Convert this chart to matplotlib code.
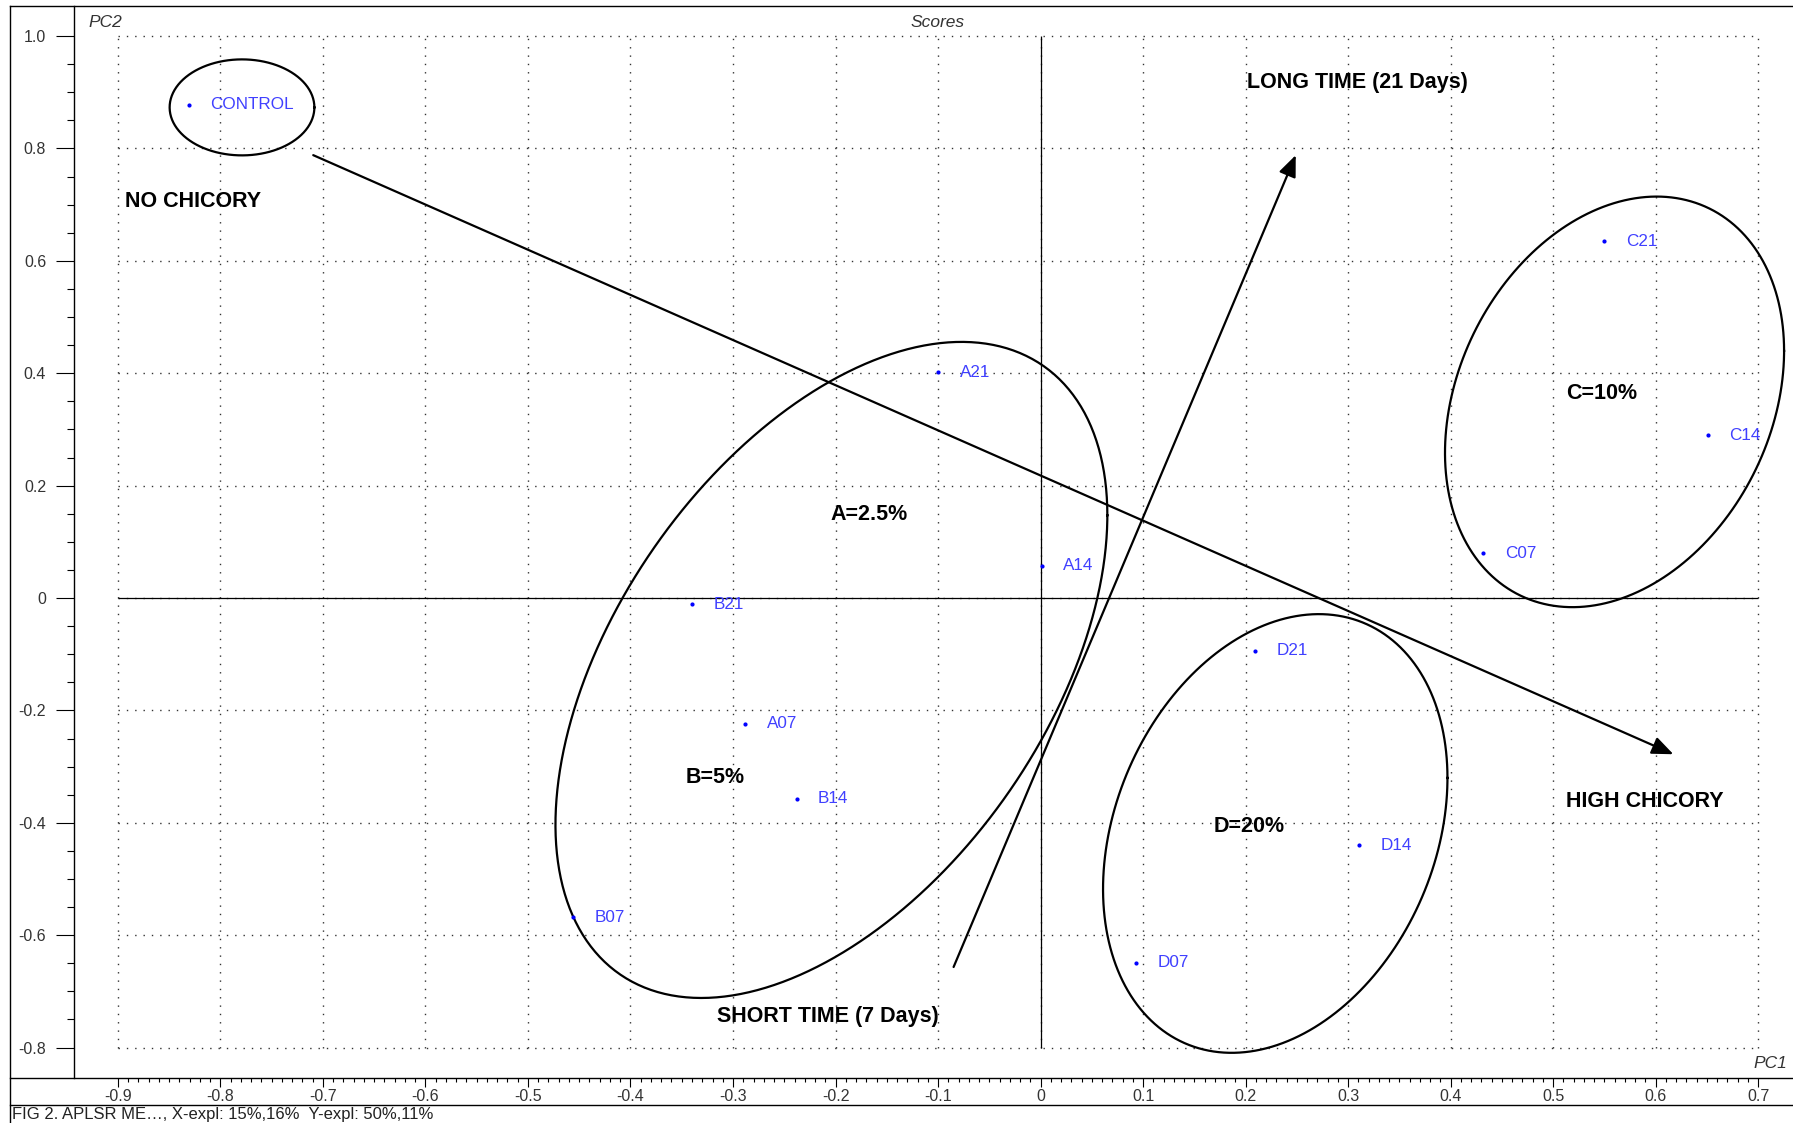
import numpy as np
import matplotlib
matplotlib.use("Agg")
import matplotlib.pyplot as plt
from matplotlib.lines import Line2D

plt.rcParams["font.family"] = ["Liberation Sans", "DejaVu Sans"]

# ---- scores (PC1, PC2) ----
sample_names = ["CONTROL", "A21", "A14", "A07", "B21", "B14", "B07",
                "C21", "C14", "C07", "D21", "D14", "D07"]
pc1_scores = [-0.831, -0.100, 0.001, -0.288, -0.340, -0.238, -0.456,
              0.550, 0.651, 0.432, 0.209, 0.311, 0.093]
pc2_scores = [0.878, 0.402, 0.057, -0.224, -0.011, -0.357, -0.568,
              0.635, 0.290, 0.080, -0.094, -0.440, -0.649]

# ---- axis ticks ----
x_ticks = [-0.9, -0.8, -0.7, -0.6, -0.5, -0.4, -0.3, -0.2, -0.1, 0.0,
           0.1, 0.2, 0.3, 0.4, 0.5, 0.6, 0.7]
x_tick_labels = ["-0.9", "-0.8", "-0.7", "-0.6", "-0.5", "-0.4", "-0.3",
                 "-0.2", "-0.1", "0", "0.1", "0.2", "0.3", "0.4", "0.5",
                 "0.6", "0.7"]
y_ticks = [-0.8, -0.6, -0.4, -0.2, 0.0, 0.2, 0.4, 0.6, 0.8, 1.0]
y_tick_labels = ["-0.8", "-0.6", "-0.4", "-0.2", "0", "0.2", "0.4",
                 "0.6", "0.8", "1.0"]

# ---- group regions: centre, half-extent in x, half-extent in y, x-y coupling ----
region_cx = [-0.779, -0.204, 0.560, 0.229]
region_cy = [0.873, -0.128, 0.349, -0.419]
region_sx = [0.0706, 0.2692, 0.1654, 0.1680]
region_sy = [0.0854, 0.5837, 0.3653, 0.3903]
region_sxy = [0.0, 0.0741, 0.0150, 0.0166]

# ---- annotation texts ----
group_texts = ["A=2.5%", "B=5%", "C=10%", "D=20%",
               "NO CHICORY", "HIGH CHICORY",
               "LONG TIME (21 Days)", "SHORT TIME (7 Days)"]
group_text_x = [-0.205, -0.346, 0.513, 0.169, -0.893, 0.513, 0.201, -0.316]
group_text_y = [0.149, -0.319, 0.363, -0.407, 0.705, -0.3625, 0.9176, -0.745]

# ---- trend arrows: (start, end) ----
arrow_start_x = [-0.7095, -0.0848]
arrow_start_y = [0.788, -0.6566]
arrow_end_x = [0.6174, 0.249]
arrow_end_y = [-0.278, 0.788]

caption = "FIG 2. APLSR ME\u2026, X-expl: 15%,16%  Y-expl: 50%,11%"

W, H = 1793, 1123
fig = plt.figure(figsize=(W / 100, H / 100), dpi=100)
fig.patch.set_facecolor("white")


def fx(px):
    return px / W


def fy(py):
    return 1 - py / H


ax = fig.add_axes([fx(74), fy(1078), (W - 74) / W, (1078 - 6) / H])
ax.set_xlim(-0.9429, 0.7341)
ax.set_ylim(-0.8541, 1.0534)
ax.set_facecolor("white")

for s in ("top", "right", "bottom"):
    ax.spines[s].set_visible(False)
ax.spines["left"].set_linewidth(1.0)
ax.spines["left"].set_color("black")

# ticks
ax.set_xticks(x_ticks)
ax.set_xticklabels(x_tick_labels)
ax.set_yticks(y_ticks)
ax.set_yticklabels(y_tick_labels)
ax.set_xticks(np.round(np.arange(-0.9, 0.7001, 0.01), 3), minor=True)
ax.set_yticks(np.round(np.arange(-0.8, 1.0001, 0.05), 3), minor=True)
ax.tick_params(axis="x", which="major", direction="out", length=6.5, width=0.8,
               pad=1.5, labelsize=11.5, colors="black", labelcolor="#333333")
ax.tick_params(axis="x", which="minor", direction="out", length=3, width=0.8,
               colors="black")
ax.tick_params(axis="y", which="major", direction="out", length=13, width=0.8,
               pad=7, labelsize=11.5, colors="black", labelcolor="#333333")
ax.tick_params(axis="y", which="minor", direction="out", length=5, width=0.8,
               colors="black")

# dotted grid within the tick range
dot_style = dict(color="#333333", linewidth=1.0, linestyle=(0, (1, 5)), zorder=1)
ax.vlines(x_ticks, y_ticks[0], y_ticks[-1], **dot_style)
ax.hlines(y_ticks, x_ticks[0], x_ticks[-1], **dot_style)

# origin axes
ax.hlines(0, x_ticks[0], x_ticks[-1], color="black", linewidth=0.9, zorder=2)
ax.vlines(0, y_ticks[0], y_ticks[-1], color="black", linewidth=0.9, zorder=2)

# group regions
t = np.linspace(0, 2 * np.pi, 400)
for cx, cy, sx, sy, sxy in zip(region_cx, region_cy, region_sx, region_sy, region_sxy):
    l21 = sxy / sx
    l22 = np.sqrt(sy ** 2 - l21 ** 2)
    ex = cx + sx * np.cos(t)
    ey = cy + l21 * np.cos(t) + l22 * np.sin(t)
    ax.plot(ex, ey, color="black", linewidth=1.6, zorder=3)

# trend arrows
for x0, y0, x1, y1 in zip(arrow_start_x, arrow_start_y, arrow_end_x, arrow_end_y):
    ax.annotate("", xy=(x1, y1), xytext=(x0, y0),
                arrowprops=dict(arrowstyle="-|>,head_length=0.65,head_width=0.27",
                                mutation_scale=20, lw=1.6, color="black",
                                shrinkA=0, shrinkB=0),
                zorder=4)

# sample scores
ax.plot(pc1_scores, pc2_scores, linestyle="none", marker="o", markersize=2.0,
        color="#0000ff", zorder=5)
for name, x, y in zip(sample_names, pc1_scores, pc2_scores):
    ax.annotate(name, xy=(x, y), xytext=(15.5, 0), textcoords="offset points",
                ha="left", va="center", fontsize=12.3, color="#4040ff", zorder=5)

# group / trend captions
for txt, x, y in zip(group_texts, group_text_x, group_text_y):
    ax.text(x, y, txt, ha="left", va="center", fontsize=15.5,
            fontweight="bold", color="black", zorder=6)

# frame and title texts
frame = dict(color="black", linewidth=1.0)
fig.add_artist(Line2D([fx(10), fx(W)], [fy(6), fy(6)], **frame))
fig.add_artist(Line2D([fx(10), fx(10)], [fy(6), fy(H)], **frame))
fig.add_artist(Line2D([fx(10), fx(W)], [fy(1078), fy(1078)], **frame))
fig.add_artist(Line2D([fx(10), fx(W)], [fy(1105), fy(1105)], **frame))

fig.text(fx(88), fy(22.5), "PC2", fontsize=12.5, style="italic",
         color="#333333", ha="left", va="center")
fig.text(fx(938), fy(22.5), "Scores", fontsize=12.5, style="italic",
         color="#333333", ha="center", va="center")
fig.text(fx(1787), fy(1063), "PC1", fontsize=12.5, style="italic",
         color="#333333", ha="right", va="center")
fig.text(fx(12), fy(1114), caption, fontsize=12, color="#222222",
         ha="left", va="center")

fig.savefig("out.png", dpi=100, facecolor="white")
